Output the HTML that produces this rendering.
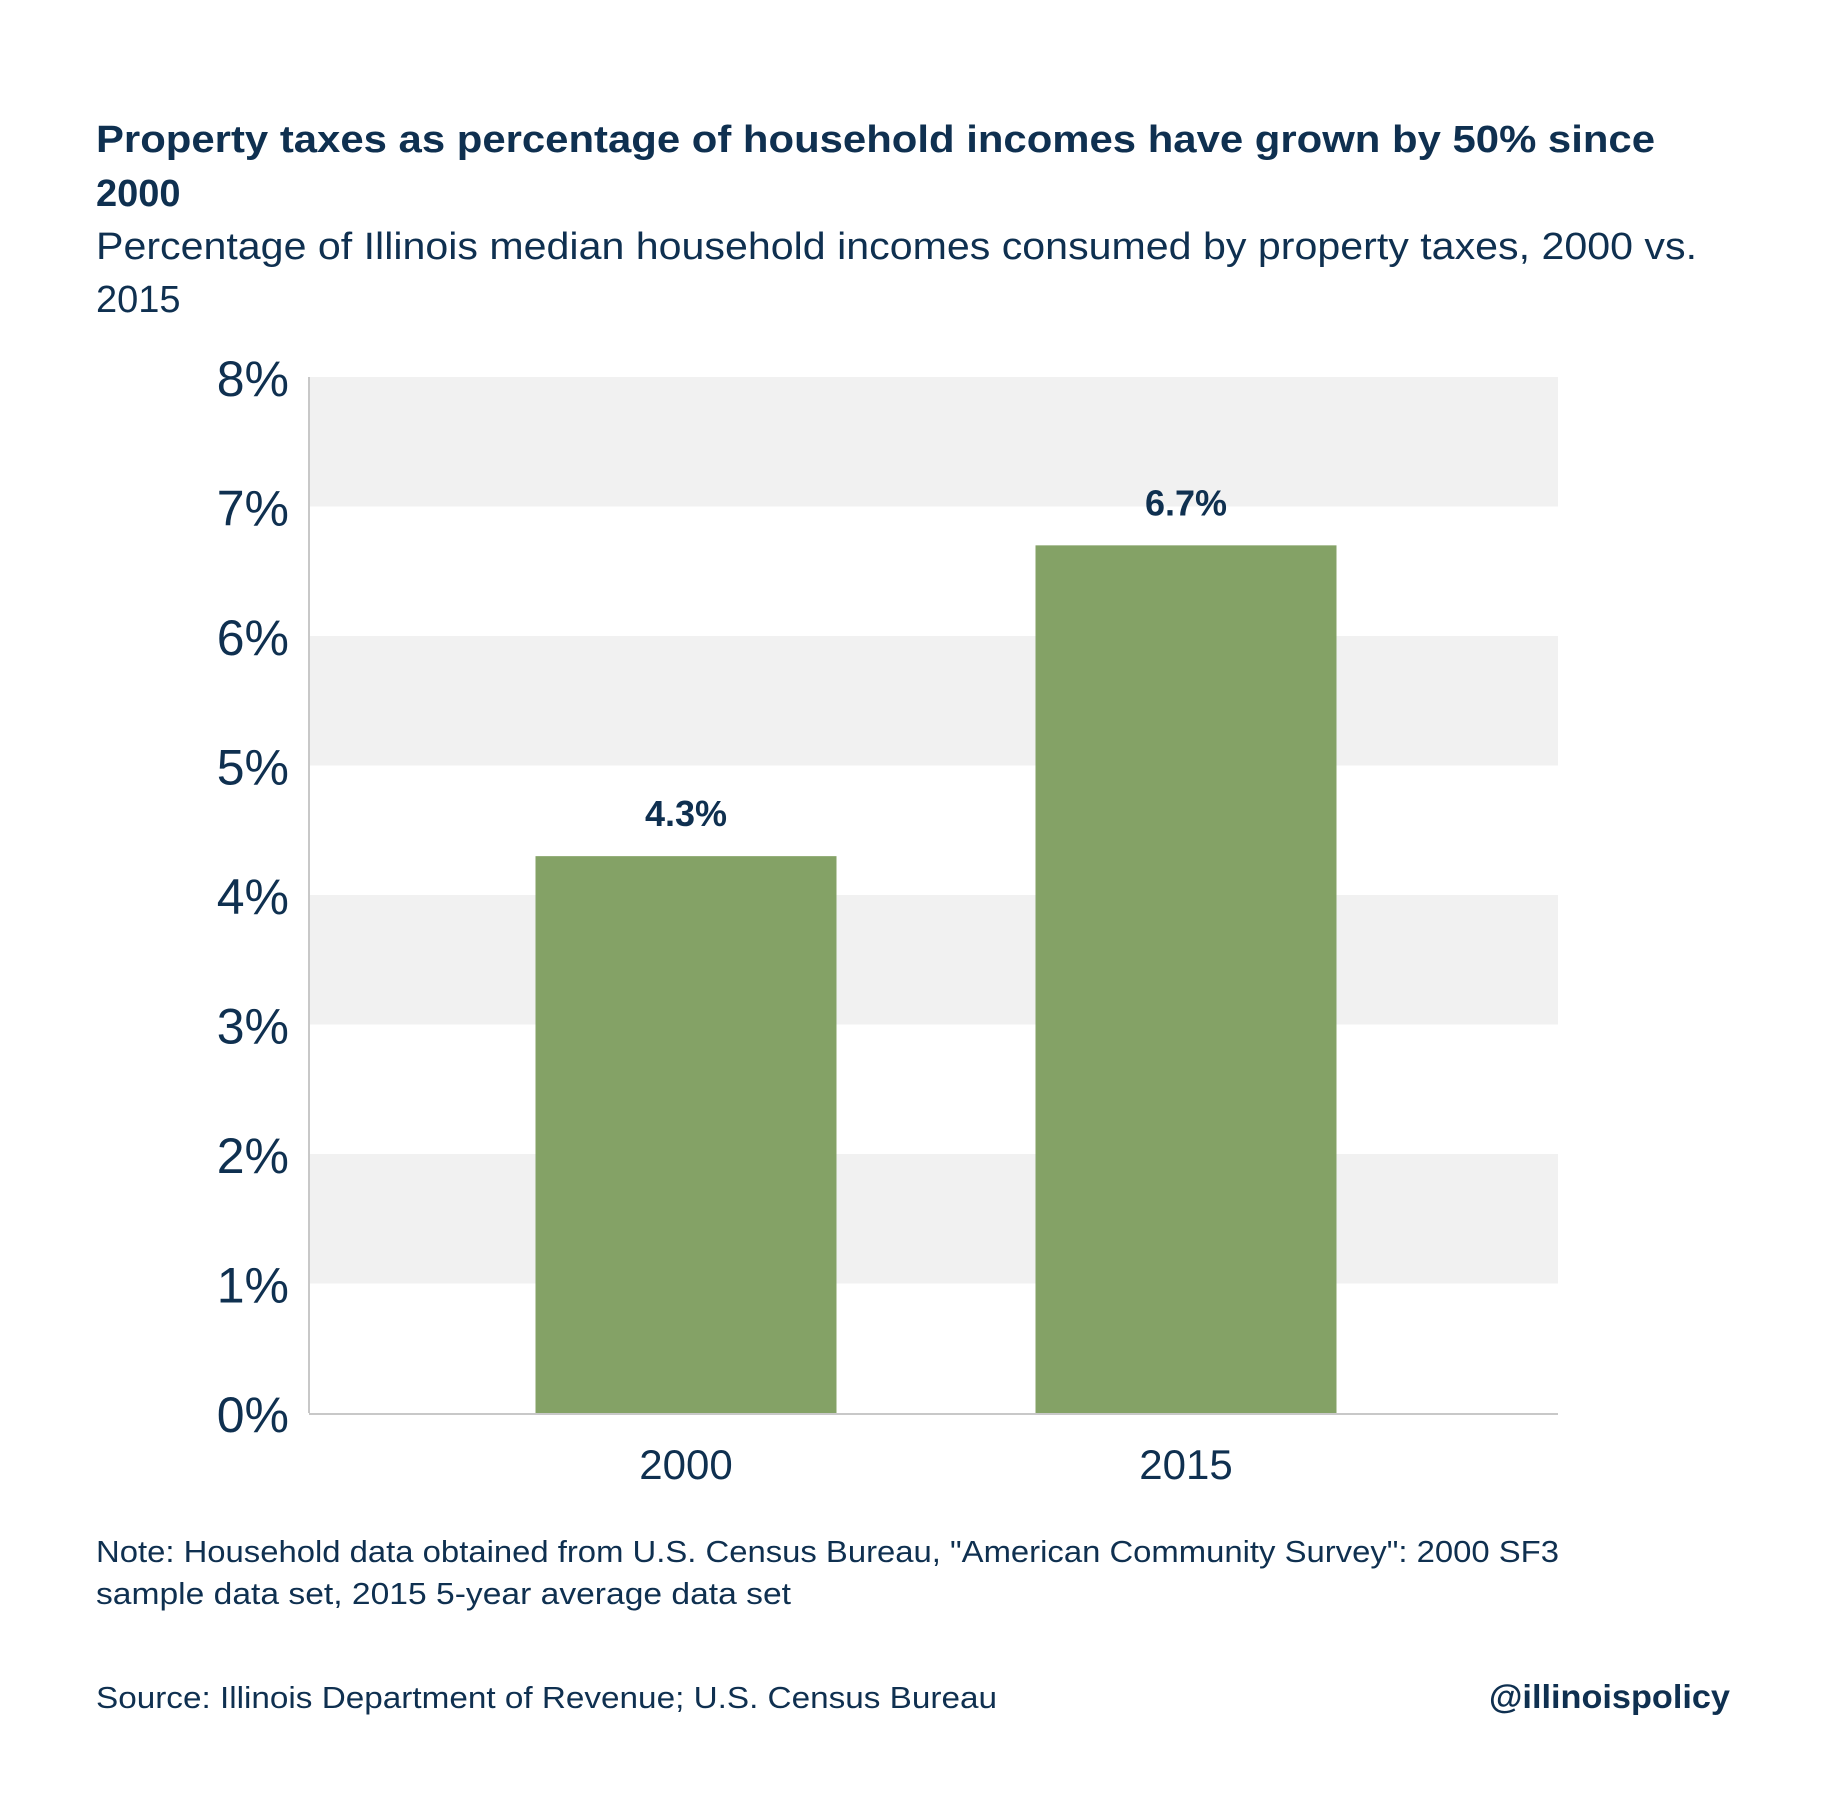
<!DOCTYPE html>
<html><head><meta charset="utf-8"><style>
html,body{margin:0;padding:0;background:#fff}
svg{display:block;font-family:"Liberation Sans",sans-serif}
</style></head><body>
<svg id="chart" width="1826" height="1804" viewBox="0 0 1826 1804">
<g fill="#0f3050">
<text x="96" y="152" font-size="38" font-weight="bold" textLength="1559" lengthAdjust="spacingAndGlyphs">Property taxes as percentage of household incomes have grown by 50% since</text>
<text x="96" y="206" font-size="38" font-weight="bold">2000</text>
<text x="96" y="259" font-size="38" textLength="1601" lengthAdjust="spacingAndGlyphs">Percentage of Illinois median household incomes consumed by property taxes, 2000 vs.</text>
<text x="96" y="312" font-size="38">2015</text>
<text x="96" y="1562" font-size="31" textLength="1463" lengthAdjust="spacingAndGlyphs">Note: Household data obtained from U.S. Census Bureau, "American Community Survey": 2000 SF3</text>
<text x="96" y="1604" font-size="31" textLength="695" lengthAdjust="spacingAndGlyphs">sample data set, 2015 5-year average data set</text>
<text x="96" y="1708" font-size="31" textLength="901" lengthAdjust="spacingAndGlyphs">Source:  Illinois Department of Revenue; U.S. Census Bureau</text>
<text x="1730" y="1708" font-size="33" font-weight="bold" text-anchor="end" textLength="241" lengthAdjust="spacingAndGlyphs">@illinoispolicy</text>
</g>
<g id="plot"></g>
</svg>
<script>
const categories = ["2000", "2015"];
const values = [4.3, 6.7];
const valueLabels = ["4.3%", "6.7%"];
const yTicks = [0, 1, 2, 3, 4, 5, 6, 7, 8];
const yTickLabels = ["0%", "1%", "2%", "3%", "4%", "5%", "6%", "7%", "8%"];

const NS = "http://www.w3.org/2000/svg";
const plot = document.getElementById("plot");
const X0 = 309, X1 = 1558, Y0 = 1413, Y1 = 377, YMAX = 8;
const y = v => Y0 - (v / YMAX) * (Y0 - Y1);
const bandW = 500, firstCenter = 686;
const xc = i => firstCenter + i * bandW;
const barW = 301;
function mk(tag, attrs) { const e = document.createElementNS(NS, tag); for (const k in attrs) e.setAttribute(k, attrs[k]); plot.appendChild(e); return e; }

for (let i = 1; i < yTicks.length; i += 2) {
  const r = mk("rect", {x: X0, y: y(yTicks[i + 1]), width: X1 - X0, height: y(yTicks[i]) - y(yTicks[i + 1]), fill: "#f1f1f1"});
  
  
}
yTicks.forEach((t, i) => {
  const tx = mk("text", {x: 289, y: y(t) + 19, "font-size": 50, fill: "#0f3050", "text-anchor": "end"});
  tx.textContent = yTickLabels[i];
  
  
});
const ax = mk("line", {x1: X0, y1: Y1, x2: X0, y2: Y0, stroke: "#c8c8c8", "stroke-width": 2});


categories.forEach((c, i) => {
  const b = mk("rect", {x: xc(i) - barW / 2, y: y(values[i]), width: barW, height: Y0 - y(values[i]), fill: "#84a266"});
  
  
  const vl = mk("text", {x: xc(i), y: y(values[i]) - 30, "font-size": 36, "font-weight": "bold", fill: "#0f3050", "text-anchor": "middle"});
  vl.textContent = valueLabels[i];
  
  
  const xl = mk("text", {x: xc(i), y: 1479, "font-size": 42, fill: "#0f3050", "text-anchor": "middle"});
  xl.textContent = c;
  
  
});
const xa = mk("line", {x1: X0, y1: Y0 + 1, x2: X1, y2: Y0 + 1, stroke: "#c8c8c8", "stroke-width": 2});


</script>
</body></html>
